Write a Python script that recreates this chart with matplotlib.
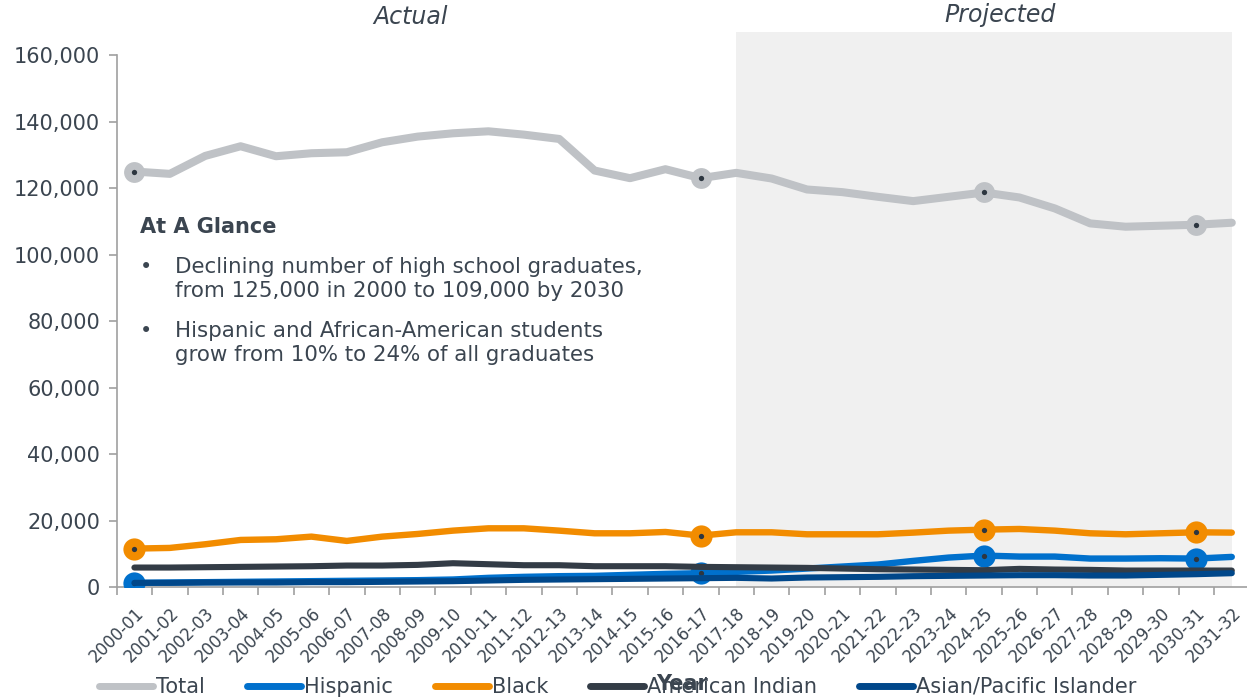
import matplotlib
matplotlib.use("Agg")
import matplotlib.pyplot as plt
from matplotlib.ticker import FuncFormatter, FixedLocator

years = ["2000-01", "2001-02", "2002-03", "2003-04", "2004-05", "2005-06", "2006-07",
         "2007-08", "2008-09", "2009-10", "2010-11", "2011-12", "2012-13", "2013-14",
         "2014-15", "2015-16", "2016-17", "2017-18", "2018-19", "2019-20", "2020-21",
         "2021-22", "2022-23", "2023-24", "2024-25", "2025-26", "2026-27", "2027-28",
         "2028-29", "2029-30", "2030-31", "2031-32"]

total = [125000, 124300, 129700, 132600, 129600, 130500, 130800, 133800, 135500, 136500,
         137100, 136100, 134800, 125300, 123000, 125700, 123000, 124600, 122900, 119600,
         118800, 117400, 116100, 117400, 118700, 117200, 113900, 109400, 108400, 108700,
         109000, 109600]
hispanic = [1300, 1400, 1500, 1600, 1700, 1800, 1900, 2000, 2100, 2300, 2800, 3100, 3300,
            3400, 3700, 4000, 4200, 4600, 5000, 5600, 6200, 6800, 7900, 8900, 9500, 9200,
            9200, 8600, 8600, 8700, 8600, 9100]
black = [11600, 11800, 12900, 14200, 14400, 15200, 13900, 15200, 16000, 17000, 17700,
         17700, 17000, 16200, 16200, 16600, 15500, 16500, 16500, 15900, 15900, 15900,
         16400, 17000, 17300, 17500, 17000, 16200, 15900, 16200, 16500, 16400]
american_indian = [5900, 5900, 6000, 6100, 6200, 6300, 6500, 6500, 6700, 7200, 6900, 6600,
                   6600, 6300, 6300, 6300, 6100, 6000, 5900, 5800, 5600, 5400, 5300, 5200,
                   5100, 5500, 5300, 5200, 5000, 5000, 5000, 5000]
asian = [1300, 1300, 1400, 1400, 1400, 1500, 1500, 1600, 1700, 1800, 2000, 2200, 2300,
         2400, 2500, 2600, 2700, 2800, 2600, 2900, 3000, 3100, 3300, 3400, 3500, 3600,
         3600, 3500, 3500, 3700, 3900, 4200]
highlight = [0, 16, 24, 30]

TEXT = "#3b4550"
GRID = "#a0a0a0"

plt.rcParams["font.family"] = "DejaVu Sans"

fig = plt.figure(figsize=(12.47, 6.99), dpi=100)
ax = fig.add_axes([0.0936, 0.16, 0.9084, 0.7611])

x = list(range(len(years)))

# shaded projection period, running a little above the plot area
ax.axvspan(17, 31, ymin=0, ymax=1.043, color="#f0f0f0", zorder=0, clip_on=False, lw=0)

series = [
    ("Total", total, "#bfc2c6", 5.8, True),
    ("Hispanic", hispanic, "#0070cc", 4.6, True),
    ("Black", black, "#f28c00", 4.6, True),
    ("American Indian", american_indian, "#333c46", 4.4, False),
    ("Asian/Pacific Islander", asian, "#00478a", 4.4, False),
]
order = {"Total": 2, "Black": 3, "Hispanic": 4, "American Indian": 5, "Asian/Pacific Islander": 6}

handles = []
for name, vals, col, lw, marks in series:
    z = order[name]
    ln, = ax.plot(x, vals, color=col, lw=lw, solid_capstyle="round", solid_joinstyle="round",
                  zorder=z, label=name)
    if marks:
        ax.plot([x[i] for i in highlight], [vals[i] for i in highlight], "o", color=col,
                ms=16 if name != "Total" else 15, zorder=z, mew=0)
        ax.plot([x[i] for i in highlight], [vals[i] for i in highlight], "o", color="#2d3640",
                ms=3.8, zorder=z, mew=0)
    handles.append(ln)

ax.set_xlim(-0.5, 31.5)
ax.set_ylim(0, 160000)
ax.set_yticks(range(0, 160001, 20000))
ax.yaxis.set_major_formatter(FuncFormatter(lambda v, p: f"{int(v):,}"))

ax.set_xticks(x)
ax.set_xticklabels(years, rotation=45, ha="right", rotation_mode="anchor")
ax.xaxis.set_minor_locator(FixedLocator([i - 0.5 for i in range(len(years) + 1)]))
ax.tick_params(axis="x", which="major", length=0, pad=12, labelsize=12, labelcolor=TEXT)
ax.tick_params(axis="x", which="minor", length=6, width=1.2, color=GRID)
ax.tick_params(axis="y", length=6, width=1.2, color=GRID, labelsize=15, labelcolor=TEXT, pad=6)

for s in ["top", "right"]:
    ax.spines[s].set_visible(False)
for s in ["left", "bottom"]:
    ax.spines[s].set_color(GRID)
    ax.spines[s].set_linewidth(1.2)

# period labels
ax.text(7.8, 1.072, "Actual", transform=ax.get_xaxis_transform(), ha="center", va="center",
        fontsize=17, style="italic", color=TEXT)
ax.text(24.45, 1.075, "Projected", transform=ax.get_xaxis_transform(), ha="center", va="center",
        fontsize=17, style="italic", color=TEXT)

# summary box
fx = lambda px: px / 1247
fy = lambda py: 1 - py / 699
fig.text(fx(140), fy(227), "At A Glance", fontsize=15, fontweight="bold", color=TEXT, va="center")
bullets = [("Declining number of high school graduates,\nfrom 125,000 in 2000 to 109,000 by 2030", 279),
           ("Hispanic and African-American students\ngrow from 10% to 24% of all graduates", 343)]
for txt, yc in bullets:
    fig.text(fx(140), fy(yc - 12), "\u2022", fontsize=15, color=TEXT, va="center")
    fig.text(fx(175), fy(yc), txt, fontsize=15.4, color=TEXT, va="center", linespacing=1.22)

fig.text(fx(682), fy(684), "Year", fontsize=15, fontweight="bold", color=TEXT,
         ha="center", va="center", zorder=10)

leg = fig.legend(handles=handles, loc="center", bbox_to_anchor=(fx(618), fy(687)), ncol=5,
                 frameon=False, fontsize=15, handlelength=2.6, handletextpad=0.15,
                 columnspacing=2.0, labelcolor=TEXT)
for h in leg.get_lines():
    h.set_linewidth(5)
    h.set_solid_capstyle("round")

fig.savefig("out.png", dpi=100)
